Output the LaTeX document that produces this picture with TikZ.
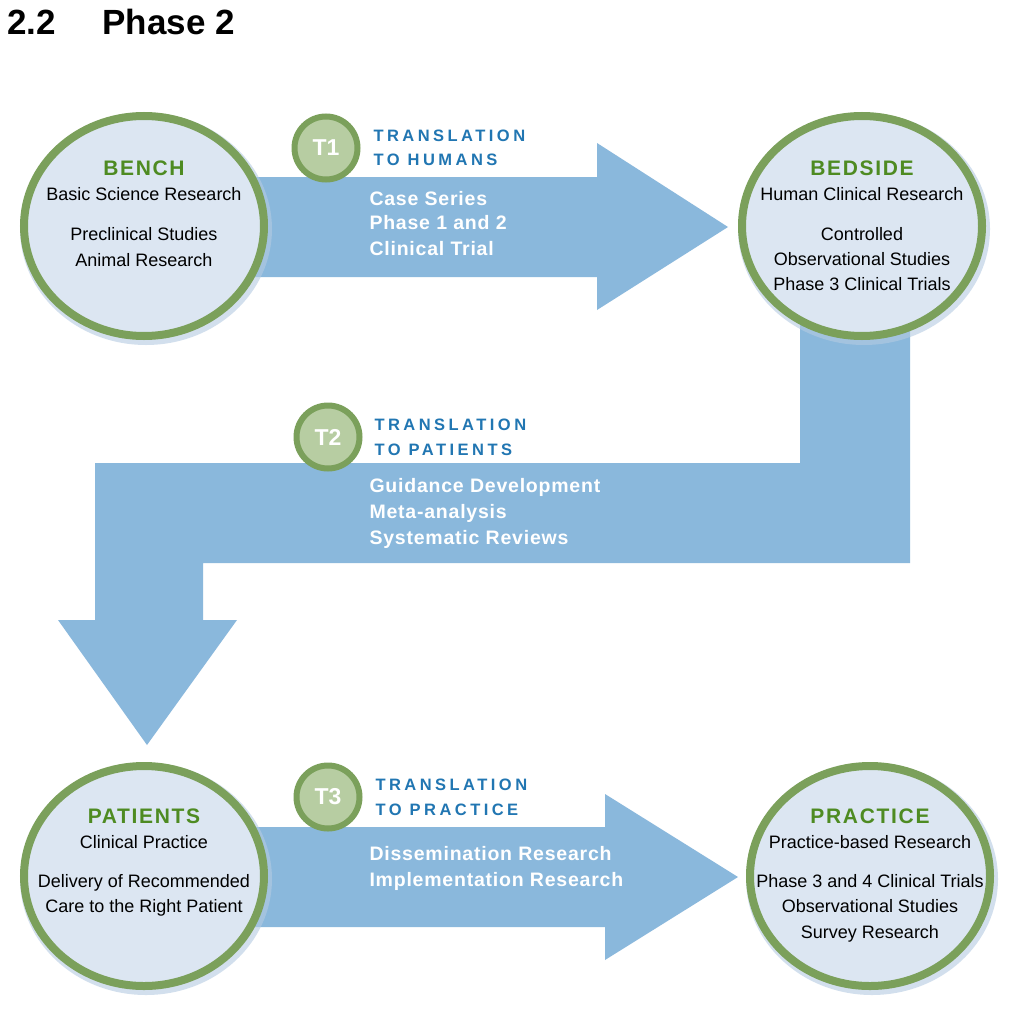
\documentclass[tikz,border=0pt]{standalone}
\usepackage{fontspec}
\setmainfont{Liberation Sans}
\usetikzlibrary{shapes.geometric}
\definecolor{arrowc}{HTML}{8AB8DC}
\definecolor{discc}{HTML}{DCE6F2}
\definecolor{ringc}{HTML}{7BA05B}
\definecolor{titlec}{HTML}{4E8B22}
\definecolor{badgec}{HTML}{B7CDA2}
\definecolor{transc}{HTML}{2176B2}
\definecolor{glowc}{HTML}{B4CBE2}

\tikzset{
  disc/.style={ellipse, draw=ringc, fill=discc, line width=8pt,
    minimum width=240pt, minimum height=220pt, inner sep=0pt},
  badge/.style={circle, draw=ringc, fill=badgec, line width=6pt, minimum size=63pt,
    inner sep=0pt, text=white, font=\fontsize{23}{23}\selectfont\bfseries},
  disctitle/.style={anchor=base, text=titlec,
    font=\fontsize{21}{21}\selectfont\bfseries\addfontfeature{LetterSpace=8}},
  body/.style={anchor=base, font=\fontsize{18}{18}\selectfont},
  translabel/.style={anchor=base west, text=transc,
    font=\fontsize{16.5}{16.5}\selectfont\bfseries\addfontfeature{LetterSpace=21}},
  inarrow/.style={anchor=base west, text=white,
    font=\fontsize{19.5}{19.5}\selectfont\bfseries\addfontfeature{LetterSpace=4}}
}

\begin{document}
\begin{tikzpicture}[x=1pt, y=-1pt]
  \fill[white] (0,0) rectangle (1014,1014);
  \useasboundingbox (0,0) rectangle (1014,1014);
  \node[anchor=base west, font=\fontsize{35}{35}\selectfont\bfseries] (secnum) at (4,35) {2.2};
  \node[anchor=base west, font=\fontsize{35}{35}\selectfont\bfseries] (sectitle) at (99,35) {Phase 2};

  % block arrows
  \fill[arrowc] (250,177) -- (597,177) -- (597,143) -- (728,227) -- (597,310) -- (597,277) -- (250,277) -- cycle;
  \fill[arrowc] (800,320) -- (910,320) -- (910,563) -- (203,563) -- (203,620) -- (237,620)
    -- (147,745) -- (58,620) -- (95,620) -- (95,463) -- (800,463) -- cycle;
  \fill[arrowc] (250,827) -- (605,827) -- (605,794) -- (738,877) -- (605,960) -- (605,927) -- (250,927) -- cycle;

  % discs
  \foreach \n/\x/\y in {bench/144/226, bedside/862/226, patients/144/876, practice/870/876} {
    \fill[glowc, opacity=0.6] (\x+2,\y+3) ellipse (126 and 116);
    \node[disc] (\n) at (\x,\y) {};
  }

  \node[disctitle] (benchtitle) at (144,175) {BENCH};
  \foreach \y/\t [count=\i] in {200/Basic Science Research, 240/Preclinical Studies, 266/Animal Research}
    \node[body] (bench\i) at (144,\y) {\t};

  \node[disctitle] (bedsidetitle) at (862,175) {BEDSIDE};
  \foreach \y/\t [count=\i] in {200/Human Clinical Research, 240/Controlled, 265/Observational Studies, 290/Phase 3 Clinical Trials}
    \node[body] (bedside\i) at (862,\y) {\t};

  \node[disctitle] (patientstitle) at (144,823) {PATIENTS};
  \foreach \y/\t [count=\i] in {848/Clinical Practice, 887/Delivery of Recommended, 912/Care to the Right Patient}
    \node[body] (patients\i) at (144,\y) {\t};

  \node[disctitle] (practicetitle) at (870,823) {PRACTICE};
  \foreach \y/\t [count=\i] in {848/Practice-based Research, 887/Phase 3 and 4 Clinical Trials, 912/Observational Studies, 938/Survey Research}
    \node[body] (practice\i) at (870,\y) {\t};

  % translation steps
  \node[badge] (tone) at (326,148) {T1};
  \node[translabel] (toneA) at (370,141) {TRANSLATION};
  \node[translabel] (toneB) at (370,165) {TO HUMANS};
  \foreach \y/\t [count=\i] in {205/Case Series, 229/Phase 1 and 2, 255/Clinical Trial}
    \node[inarrow] (tonetext\i) at (366,\y) {\t};

  \node[badge] (ttwo) at (328,437) {T2};
  \node[translabel] (ttwoA) at (371,430) {TRANSLATION};
  \node[translabel] (ttwoB) at (371,455) {TO PATIENTS};
  \foreach \y/\t [count=\i] in {492/Guidance Development, 518/Meta-analysis, 544/Systematic Reviews}
    \node[inarrow] (ttwotext\i) at (366,\y) {\t};

  \node[badge] (tthree) at (328,797) {T3};
  \node[translabel] (tthreeA) at (372,790) {TRANSLATION};
  \node[translabel] (tthreeB) at (372,815) {TO PRACTICE};
  \foreach \y/\t [count=\i] in {860/Dissemination Research, 886/Implementation Research}
    \node[inarrow] (tthreetext\i) at (366,\y) {\t};
\end{tikzpicture}
\end{document}
